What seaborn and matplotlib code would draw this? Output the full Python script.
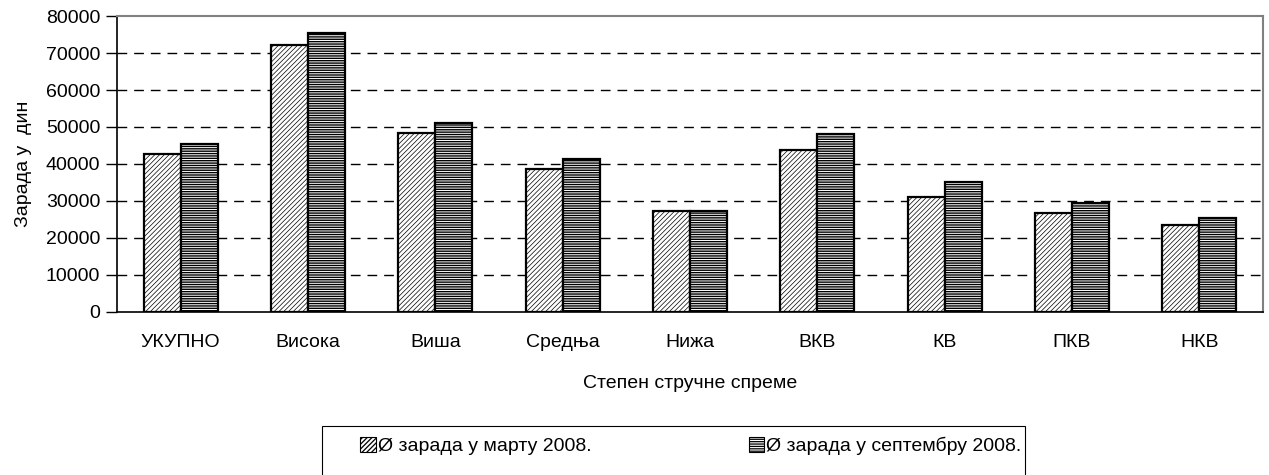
import numpy as np
import pandas as pd
import matplotlib
matplotlib.use("Agg")
import matplotlib.pyplot as plt
import seaborn as sns
from matplotlib.patches import Patch, Rectangle

# podaci
kategorije = ["УКУПНО", "Висока", "Виша", "Средња", "Нижа", "ВКВ", "КВ", "ПКВ", "НКВ"]
mart_2008 = [42800, 72200, 48400, 38700, 27200, 43900, 31100, 26700, 23400]
septembar_2008 = [45300, 75400, 51100, 41400, 27200, 48000, 35100, 29400, 25400]
serije = ["Ø зарада у марту 2008.", "Ø зарада у септембру 2008."]
y_ticks = [0, 10000, 20000, 30000, 40000, 50000, 60000, 70000, 80000]

df = pd.DataFrame({
    "kategorija": kategorije * 2,
    "serija": [serije[0]] * len(kategorije) + [serije[1]] * len(kategorije),
    "zarada": mart_2008 + septembar_2008,
})

sns.set_style("white")
plt.rcParams["font.family"] = ["Liberation Sans", "DejaVu Sans"]
plt.rcParams["text.color"] = "black"
plt.rcParams["axes.labelcolor"] = "black"
plt.rcParams["xtick.color"] = "black"
plt.rcParams["ytick.color"] = "black"
plt.rcParams["hatch.linewidth"] = 0.9

fig = plt.figure(figsize=(12.69, 4.75), dpi=100)
ax = fig.add_axes([0.0922, 0.3432, 0.9031, 0.6231])

sns.barplot(data=df, x="kategorija", y="zarada", hue="serija", order=kategorije,
            hue_order=serije, palette=["white", "white"], width=0.58,
            edgecolor="black", linewidth=1.6, saturation=1, legend=False, ax=ax)

hatches = ["///////", "-------"]
hatch_lw = [0.5, 1.0]
n = len(kategorije)
for i, bar in enumerate(ax.patches[:2 * n]):
    bar.set_hatch(hatches[i // n])
    if hasattr(bar, "set_hatch_linewidth"):
        bar.set_hatch_linewidth(hatch_lw[i // n])

ax.set_ylim(0, 80000)
ax.set_yticks(y_ticks)
ax.set_yticklabels([str(t) for t in y_ticks], fontsize=14)
ax.tick_params(axis="y", direction="out", length=8, width=1, left=True, pad=4)
ax.tick_params(axis="x", length=0, labelsize=14, pad=16)
ax.set_xlim(-0.5, n - 0.5)

for t in y_ticks[1:-1]:
    ax.axhline(t, color="black", lw=1, ls=(0, (7, 5)), zorder=0)

ax.set_xlabel("Степен стручне спреме", fontsize=14, labelpad=17)
ax.set_ylabel("Зарада у  дин", fontsize=14, labelpad=10)

for s in ["left", "bottom"]:
    ax.spines[s].set_color("black")
    ax.spines[s].set_linewidth(1.2)
for s in ["top", "right"]:
    ax.spines[s].set_color("#808080")
    ax.spines[s].set_linewidth(1.5)

# okvir legende posebno
fig.patches.append(Rectangle((322 / 1269, -0.05), (1025 - 322) / 1269, 0.05 + 49 / 475,
                             transform=fig.transFigure, facecolor="none",
                             edgecolor="black", lw=0.8))

handles = [Patch(facecolor="white", edgecolor="black", hatch=h, lw=0.8) for h in hatches]
leg = fig.legend(handles, serije, loc="center left", bbox_to_anchor=(360 / 1269, 1 - 446 / 475),
                 ncol=2, fontsize=14, frameon=False,
                 handlelength=0.8, handleheight=0.8, handletextpad=0.1, columnspacing=8.1,
                 borderpad=0, borderaxespad=0)

fig.savefig("out.png", dpi=100)
